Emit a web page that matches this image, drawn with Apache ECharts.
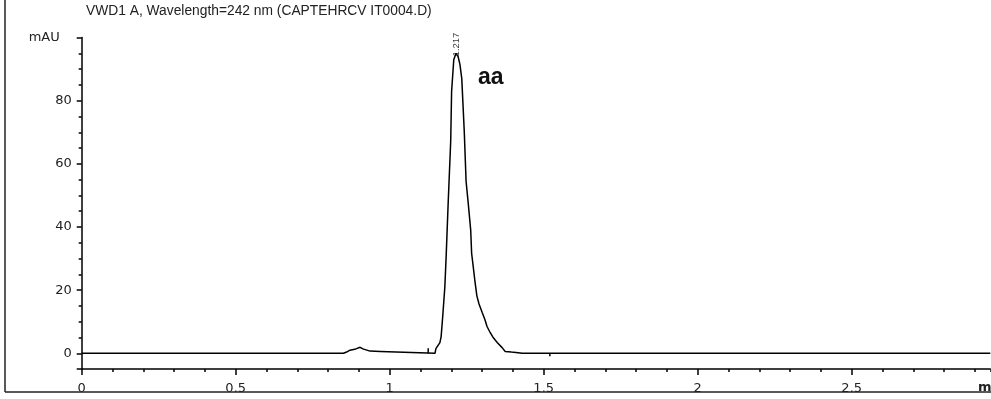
<!DOCTYPE html>
<html><head><meta charset="utf-8">
<script src="https://cdn.jsdelivr.net/npm/echarts@6/dist/echarts.min.js"></script>
<style>html,body{margin:0;padding:0;background:#fff}#c{width:991px;height:399px}</style>
</head><body><div id="c"></div>
<script>
const titleText = 'VWD1 A, Wavelength=242 nm (CAPTEHRCV IT0004.D)';
const yUnit = 'mAU';
const xUnit = 'min';
const annotation = 'aa';
const xTickValues = [0, 0.5, 1, 1.5, 2, 2.5];
const yTickValues = [0, 20, 40, 60, 80];
const yMajorTicks = [-5, 0, 20, 40, 60, 80, 100];
const times = [0, 0.85, 0.86, 0.871, 0.89, 0.904, 0.913, 0.936, 0.970, 0.975, 1.147,
  1.150, 1.163, 1.167, 1.172, 1.179, 1.183, 1.190, 1.198, 1.201, 1.208, 1.215,
  1.222, 1.228, 1.234, 1.242, 1.248, 1.255, 1.263, 1.266, 1.271, 1.277, 1.283,
  1.290, 1.300, 1.309, 1.316, 1.326, 1.336, 1.349, 1.365, 1.375, 1.395, 1.417, 1.43, 2.95];
const signal = [0, 0, 0.4, 1.0, 1.4, 1.9, 1.4, 0.7, 0.6, 0, 0,
  1.5, 3.4, 5.3, 11.5, 21, 30, 48, 67, 83, 93, 95,
  94, 91.5, 87, 70.5, 54.5, 47.5, 39, 31.7, 27.6, 22.6, 18.2,
  15.6, 13, 10.7, 8.5, 6.6, 5.0, 3.4, 1.8, 0.6, 0.4, 0.2, 0, 0];
const peakTimes = [1.217];
const peakLabels = ['1.217'];
const peakHeights = [95];
const eventTimes = [1.125, 1.52];
const eventHeights = [1.6, -0.9];

const lineData = times.map((t, i) => [t, signal[i]]);
const eventData = [];
eventTimes.forEach((t, i) => { eventData.push([t, 0], [t, eventHeights[i]], null); });
const peakData = peakTimes.map((t, i) => ({ value: [t, peakHeights[i]], name: peakLabels[i] }));

const FONT = 'DejaVu Sans';
const chart = echarts.init(document.getElementById('c'), null, { renderer: 'canvas' });
chart.setOption({
  animation: false,
  backgroundColor: '#fff',
  title: {
    text: titleText, left: 86, top: 4, padding: 0,
    textStyle: { fontFamily: 'Liberation Sans', fontSize: 13.8, fontWeight: 'normal', color: '#222' }
  },
  grid: { left: 81.7, top: 37.6, width: 908.6, height: 331.5 },
  xAxis: [{
    type: 'value', min: 0, max: 2.95, position: 'bottom',
    axisLine: { onZero: false, lineStyle: { color: '#000', width: 1.5 } },
    axisTick: { customValues: xTickValues, length: 6, lineStyle: { color: '#000', width: 1.5 } },
    axisLabel: { customValues: xTickValues, margin: 13, fontFamily: FONT, fontSize: 13, color: '#222' },
    splitLine: { show: false }
  }, {
    type: 'value', min: 0, max: 2.95, interval: 0.1, position: 'bottom',
    axisLine: { show: false, onZero: false },
    axisTick: { length: 3, lineStyle: { color: '#000', width: 1.5 } },
    axisLabel: { show: false }, splitLine: { show: false }
  }],
  yAxis: [{
    type: 'value', min: -5, max: 100, position: 'left',
    name: yUnit, nameLocation: 'end', nameGap: 0,
    nameTextStyle: { fontFamily: FONT, fontSize: 13, color: '#222', align: 'right', verticalAlign: 'middle', padding: [0, 22, 0, 0] },
    axisLine: { onZero: false, lineStyle: { color: '#000', width: 1.5 } },
    axisTick: { customValues: yMajorTicks, length: 5, lineStyle: { color: '#000', width: 1.5 } },
    axisLabel: { customValues: yTickValues, margin: 10, fontFamily: FONT, fontSize: 13, color: '#222' },
    splitLine: { show: false }
  }, {
    type: 'value', min: -5, max: 100, interval: 5, position: 'left',
    axisLine: { show: false, onZero: false },
    axisTick: { length: 3, lineStyle: { color: '#000', width: 1.5 } },
    axisLabel: { show: false }, splitLine: { show: false }
  }],
  series: [{
    type: 'line', data: lineData, xAxisIndex: 0, yAxisIndex: 0,
    showSymbol: false, symbol: 'none', lineStyle: { color: '#000', width: 1.5 }, z: 3
  }, {
    type: 'line', data: eventData, xAxisIndex: 0, yAxisIndex: 0, connectNulls: false,
    showSymbol: false, symbol: 'none', lineStyle: { color: '#000', width: 1.5 }, z: 3
  }, {
    type: 'scatter', data: peakData, xAxisIndex: 0, yAxisIndex: 0, symbolSize: 0,
    label: {
      show: true, formatter: p => p.name, position: 'inside', rotate: 90, offset: [-3, 0],
      align: 'left', verticalAlign: 'middle', fontFamily: 'Liberation Sans', fontSize: 9.5, color: '#000'
    }, z: 4
  }],
  graphic: [
    { type: 'text', left: 478, top: 66, z: 10,
      style: { text: annotation, font: 'bold 23px "Liberation Sans"', fill: '#111' } },
    { type: 'text', left: 978, top: 381, z: 10,
      style: { text: xUnit, font: 'bold 13px "DejaVu Sans"', fill: '#222' } },
    { type: 'rect', shape: { x: 0, y: 392.5, width: 991, height: 10 }, style: { fill: '#fff' }, z: 20 },
    { type: 'line', shape: { x1: 5, y1: 0, x2: 5, y2: 392 }, style: { stroke: '#222', lineWidth: 1.5 }, z: 21 },
    { type: 'line', shape: { x1: 5, y1: 392, x2: 991, y2: 392 }, style: { stroke: '#222', lineWidth: 1.5 }, z: 21 }
  ]
});
</script></body></html>
